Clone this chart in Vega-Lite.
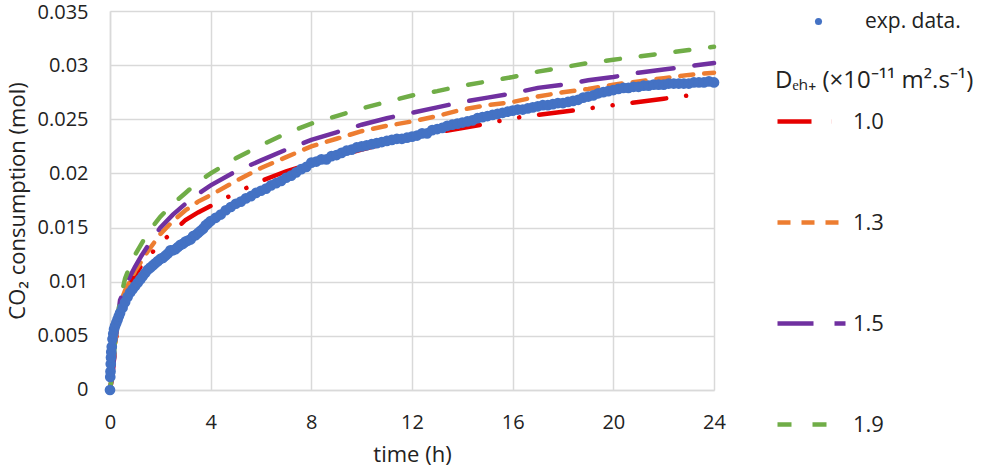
{
  "$schema": "https://vega.github.io/schema/vega-lite/v6.json",
  "width": 604,
  "height": 379,
  "autosize": "none",
  "padding": {"left": 110, "top": 11, "right": 272, "bottom": 83},
  "background": "white",
  "config": {
    "font": "Open Sans",
    "view": {"stroke": null},
    "axis": {
      "grid": true,
      "gridColor": "#D9D9D9",
      "gridWidth": 1.5,
      "domainColor": "#D9D9D9",
      "domainWidth": 1.5,
      "ticks": false,
      "labelFont": "Open Sans",
      "labelFontSize": 20,
      "labelColor": "#222222",
      "titleFont": "Open Sans",
      "titleFontSize": 22,
      "titleFontWeight": "normal",
      "titleColor": "#222222"
    },
    "legend": {
      "labelFont": "Open Sans",
      "titleFont": "Open Sans",
      "labelColor": "#222222",
      "titleColor": "#222222"
    }
  },
  "datasets": {
    "exp": [
      {"t": 0, "v": 0},
      {"t": 0.01, "v": 0.0012},
      {"t": 0.02, "v": 0.0017},
      {"t": 0.03, "v": 0.0024},
      {"t": 0.04, "v": 0.003},
      {"t": 0.05, "v": 0.0035},
      {"t": 0.07, "v": 0.004},
      {"t": 0.1, "v": 0.0047},
      {"t": 0.13, "v": 0.0052},
      {"t": 0.16, "v": 0.0056},
      {"t": 0.2, "v": 0.0059},
      {"t": 0.25, "v": 0.0062},
      {"t": 0.3, "v": 0.0065},
      {"t": 0.35, "v": 0.0068},
      {"t": 0.4, "v": 0.0071},
      {"t": 0.5, "v": 0.0076},
      {"t": 0.6, "v": 0.0081},
      {"t": 0.7, "v": 0.0086},
      {"t": 0.8, "v": 0.009},
      {"t": 0.9, "v": 0.0093},
      {"t": 1.0, "v": 0.0096},
      {"t": 1.1, "v": 0.0099},
      {"t": 1.2, "v": 0.0102},
      {"t": 1.3, "v": 0.0105},
      {"t": 1.4, "v": 0.0108},
      {"t": 1.5, "v": 0.0111},
      {"t": 1.6, "v": 0.0113},
      {"t": 1.7, "v": 0.0115},
      {"t": 1.8, "v": 0.0117},
      {"t": 1.9, "v": 0.0119},
      {"t": 2.0, "v": 0.0121},
      {"t": 2.1, "v": 0.0122},
      {"t": 2.2, "v": 0.0124},
      {"t": 2.3, "v": 0.0126},
      {"t": 2.4, "v": 0.0129},
      {"t": 2.5, "v": 0.0129},
      {"t": 2.6, "v": 0.013},
      {"t": 2.7, "v": 0.0132},
      {"t": 2.8, "v": 0.0134},
      {"t": 2.9, "v": 0.0135},
      {"t": 3.0, "v": 0.0137},
      {"t": 3.1, "v": 0.0138},
      {"t": 3.2, "v": 0.0139},
      {"t": 3.3, "v": 0.0142},
      {"t": 3.4, "v": 0.0143},
      {"t": 3.5, "v": 0.0145},
      {"t": 3.6, "v": 0.0147},
      {"t": 3.7, "v": 0.0149},
      {"t": 3.8, "v": 0.0152},
      {"t": 3.9, "v": 0.0154},
      {"t": 4.0, "v": 0.0156},
      {"t": 4.2, "v": 0.0159},
      {"t": 4.4, "v": 0.0162},
      {"t": 4.6, "v": 0.0166},
      {"t": 4.8, "v": 0.0169},
      {"t": 5.0, "v": 0.0172},
      {"t": 5.2, "v": 0.0174},
      {"t": 5.4, "v": 0.0177},
      {"t": 5.6, "v": 0.0179},
      {"t": 5.8, "v": 0.0182},
      {"t": 6.0, "v": 0.0184},
      {"t": 6.2, "v": 0.0186},
      {"t": 6.4, "v": 0.0189},
      {"t": 6.6, "v": 0.0191},
      {"t": 6.8, "v": 0.0193},
      {"t": 7.0, "v": 0.0196},
      {"t": 7.2, "v": 0.0198},
      {"t": 7.4, "v": 0.0201},
      {"t": 7.6, "v": 0.0204},
      {"t": 7.8, "v": 0.0206},
      {"t": 8.0, "v": 0.021},
      {"t": 8.2, "v": 0.0211},
      {"t": 8.4, "v": 0.0213},
      {"t": 8.6, "v": 0.0213},
      {"t": 8.8, "v": 0.0216},
      {"t": 9.0, "v": 0.0217},
      {"t": 9.2, "v": 0.0219},
      {"t": 9.4, "v": 0.0221},
      {"t": 9.6, "v": 0.0222},
      {"t": 9.8, "v": 0.0224},
      {"t": 10.0, "v": 0.0225},
      {"t": 10.2, "v": 0.0226},
      {"t": 10.4, "v": 0.0227},
      {"t": 10.6, "v": 0.0228},
      {"t": 10.8, "v": 0.0229},
      {"t": 11.0, "v": 0.023},
      {"t": 11.2, "v": 0.0231},
      {"t": 11.4, "v": 0.0232},
      {"t": 11.6, "v": 0.0232},
      {"t": 11.8, "v": 0.0233},
      {"t": 12.0, "v": 0.0234},
      {"t": 12.2, "v": 0.0235},
      {"t": 12.4, "v": 0.0237},
      {"t": 12.6, "v": 0.0237},
      {"t": 12.8, "v": 0.024},
      {"t": 13.0, "v": 0.0241},
      {"t": 13.2, "v": 0.0242},
      {"t": 13.4, "v": 0.0244},
      {"t": 13.6, "v": 0.0245},
      {"t": 13.8, "v": 0.0246},
      {"t": 14.0, "v": 0.0247},
      {"t": 14.2, "v": 0.0248},
      {"t": 14.4, "v": 0.0249},
      {"t": 14.6, "v": 0.0251},
      {"t": 14.8, "v": 0.0252},
      {"t": 15.0, "v": 0.0253},
      {"t": 15.2, "v": 0.0254},
      {"t": 15.4, "v": 0.0255},
      {"t": 15.6, "v": 0.0256},
      {"t": 15.8, "v": 0.0257},
      {"t": 16.0, "v": 0.0258},
      {"t": 16.2, "v": 0.0259},
      {"t": 16.4, "v": 0.0259},
      {"t": 16.6, "v": 0.026},
      {"t": 16.8, "v": 0.0261},
      {"t": 17.0, "v": 0.0262},
      {"t": 17.2, "v": 0.0263},
      {"t": 17.4, "v": 0.0263},
      {"t": 17.6, "v": 0.0264},
      {"t": 17.8, "v": 0.0265},
      {"t": 18.0, "v": 0.0265},
      {"t": 18.2, "v": 0.0266},
      {"t": 18.4, "v": 0.0267},
      {"t": 18.6, "v": 0.0268},
      {"t": 18.8, "v": 0.027},
      {"t": 19.0, "v": 0.0271},
      {"t": 19.2, "v": 0.0272},
      {"t": 19.4, "v": 0.0274},
      {"t": 19.6, "v": 0.0275},
      {"t": 19.8, "v": 0.0276},
      {"t": 20.0, "v": 0.0277},
      {"t": 20.2, "v": 0.0278},
      {"t": 20.4, "v": 0.0279},
      {"t": 20.6, "v": 0.0279},
      {"t": 20.8, "v": 0.028},
      {"t": 21.0, "v": 0.028},
      {"t": 21.2, "v": 0.0281},
      {"t": 21.4, "v": 0.0281},
      {"t": 21.6, "v": 0.0282},
      {"t": 21.8, "v": 0.0282},
      {"t": 22.0, "v": 0.0282},
      {"t": 22.2, "v": 0.0283},
      {"t": 22.4, "v": 0.0283},
      {"t": 22.6, "v": 0.0283},
      {"t": 22.8, "v": 0.0283},
      {"t": 23.0, "v": 0.0283},
      {"t": 23.2, "v": 0.0284},
      {"t": 23.4, "v": 0.0284},
      {"t": 23.6, "v": 0.0284},
      {"t": 23.8, "v": 0.0285},
      {"t": 24.0, "v": 0.0284}
    ],
    "model": [
      {"t": 0, "v": 0, "D": "1.0"},
      {"t": 0.1, "v": 0.0015, "D": "1.0"},
      {"t": 0.2, "v": 0.0038, "D": "1.0"},
      {"t": 0.3, "v": 0.0058, "D": "1.0"},
      {"t": 0.4, "v": 0.0072, "D": "1.0"},
      {"t": 0.6, "v": 0.0088, "D": "1.0"},
      {"t": 0.8, "v": 0.0098, "D": "1.0"},
      {"t": 1, "v": 0.0106, "D": "1.0"},
      {"t": 1.25, "v": 0.0115, "D": "1.0"},
      {"t": 1.5, "v": 0.0122, "D": "1.0"},
      {"t": 2, "v": 0.0136, "D": "1.0"},
      {"t": 2.5, "v": 0.0146, "D": "1.0"},
      {"t": 3, "v": 0.0157, "D": "1.0"},
      {"t": 3.5, "v": 0.0164, "D": "1.0"},
      {"t": 4, "v": 0.017, "D": "1.0"},
      {"t": 5, "v": 0.0182, "D": "1.0"},
      {"t": 6, "v": 0.0193, "D": "1.0"},
      {"t": 7, "v": 0.0202, "D": "1.0"},
      {"t": 8, "v": 0.0209, "D": "1.0"},
      {"t": 9, "v": 0.0216, "D": "1.0"},
      {"t": 10, "v": 0.0222, "D": "1.0"},
      {"t": 11, "v": 0.0228, "D": "1.0"},
      {"t": 12, "v": 0.0233, "D": "1.0"},
      {"t": 13, "v": 0.0238, "D": "1.0"},
      {"t": 14, "v": 0.0242, "D": "1.0"},
      {"t": 15, "v": 0.0246, "D": "1.0"},
      {"t": 16, "v": 0.0251, "D": "1.0"},
      {"t": 17, "v": 0.0254, "D": "1.0"},
      {"t": 18, "v": 0.0257, "D": "1.0"},
      {"t": 19, "v": 0.026, "D": "1.0"},
      {"t": 20, "v": 0.0263, "D": "1.0"},
      {"t": 21, "v": 0.0266, "D": "1.0"},
      {"t": 22, "v": 0.0269, "D": "1.0"},
      {"t": 23, "v": 0.0272, "D": "1.0"},
      {"t": 23.4, "v": 0.0274, "D": "1.0"},
      {"t": 0, "v": 0, "D": "1.3"},
      {"t": 0.1, "v": 0.0015, "D": "1.3"},
      {"t": 0.2, "v": 0.004, "D": "1.3"},
      {"t": 0.3, "v": 0.0062, "D": "1.3"},
      {"t": 0.4, "v": 0.008, "D": "1.3"},
      {"t": 0.6, "v": 0.0092, "D": "1.3"},
      {"t": 0.8, "v": 0.0101, "D": "1.3"},
      {"t": 1, "v": 0.011, "D": "1.3"},
      {"t": 1.25, "v": 0.0119, "D": "1.3"},
      {"t": 1.5, "v": 0.0128, "D": "1.3"},
      {"t": 2, "v": 0.0144, "D": "1.3"},
      {"t": 2.5, "v": 0.0156, "D": "1.3"},
      {"t": 3, "v": 0.0166, "D": "1.3"},
      {"t": 3.5, "v": 0.0174, "D": "1.3"},
      {"t": 4, "v": 0.018, "D": "1.3"},
      {"t": 5, "v": 0.0193, "D": "1.3"},
      {"t": 6, "v": 0.0205, "D": "1.3"},
      {"t": 7, "v": 0.0215, "D": "1.3"},
      {"t": 8, "v": 0.0225, "D": "1.3"},
      {"t": 9, "v": 0.0232, "D": "1.3"},
      {"t": 10, "v": 0.0239, "D": "1.3"},
      {"t": 11, "v": 0.0244, "D": "1.3"},
      {"t": 12, "v": 0.0248, "D": "1.3"},
      {"t": 13, "v": 0.0253, "D": "1.3"},
      {"t": 14, "v": 0.0259, "D": "1.3"},
      {"t": 15, "v": 0.0263, "D": "1.3"},
      {"t": 16, "v": 0.0266, "D": "1.3"},
      {"t": 17, "v": 0.0271, "D": "1.3"},
      {"t": 18, "v": 0.0275, "D": "1.3"},
      {"t": 19, "v": 0.0278, "D": "1.3"},
      {"t": 20, "v": 0.0282, "D": "1.3"},
      {"t": 21, "v": 0.0285, "D": "1.3"},
      {"t": 22, "v": 0.0288, "D": "1.3"},
      {"t": 23, "v": 0.0291, "D": "1.3"},
      {"t": 24, "v": 0.0293, "D": "1.3"},
      {"t": 0, "v": 0, "D": "1.5"},
      {"t": 0.1, "v": 0.0015, "D": "1.5"},
      {"t": 0.2, "v": 0.004, "D": "1.5"},
      {"t": 0.3, "v": 0.0065, "D": "1.5"},
      {"t": 0.4, "v": 0.0083, "D": "1.5"},
      {"t": 0.6, "v": 0.0094, "D": "1.5"},
      {"t": 0.8, "v": 0.0105, "D": "1.5"},
      {"t": 1, "v": 0.0114, "D": "1.5"},
      {"t": 1.25, "v": 0.0124, "D": "1.5"},
      {"t": 1.5, "v": 0.0133, "D": "1.5"},
      {"t": 2, "v": 0.015, "D": "1.5"},
      {"t": 2.5, "v": 0.0162, "D": "1.5"},
      {"t": 3, "v": 0.0172, "D": "1.5"},
      {"t": 3.5, "v": 0.0181, "D": "1.5"},
      {"t": 4, "v": 0.0189, "D": "1.5"},
      {"t": 5, "v": 0.0202, "D": "1.5"},
      {"t": 6, "v": 0.0212, "D": "1.5"},
      {"t": 7, "v": 0.0222, "D": "1.5"},
      {"t": 8, "v": 0.0231, "D": "1.5"},
      {"t": 9, "v": 0.0238, "D": "1.5"},
      {"t": 10, "v": 0.0245, "D": "1.5"},
      {"t": 11, "v": 0.0251, "D": "1.5"},
      {"t": 12, "v": 0.0256, "D": "1.5"},
      {"t": 13, "v": 0.0261, "D": "1.5"},
      {"t": 14, "v": 0.0266, "D": "1.5"},
      {"t": 15, "v": 0.027, "D": "1.5"},
      {"t": 16, "v": 0.0274, "D": "1.5"},
      {"t": 17, "v": 0.0279, "D": "1.5"},
      {"t": 18, "v": 0.0282, "D": "1.5"},
      {"t": 19, "v": 0.0286, "D": "1.5"},
      {"t": 20, "v": 0.0289, "D": "1.5"},
      {"t": 21, "v": 0.0293, "D": "1.5"},
      {"t": 22, "v": 0.0296, "D": "1.5"},
      {"t": 23, "v": 0.0299, "D": "1.5"},
      {"t": 24, "v": 0.0302, "D": "1.5"},
      {"t": 0, "v": 0, "D": "1.9"},
      {"t": 0.1, "v": 0.0018, "D": "1.9"},
      {"t": 0.2, "v": 0.0045, "D": "1.9"},
      {"t": 0.3, "v": 0.0068, "D": "1.9"},
      {"t": 0.4, "v": 0.0083, "D": "1.9"},
      {"t": 0.6, "v": 0.0103, "D": "1.9"},
      {"t": 0.8, "v": 0.0115, "D": "1.9"},
      {"t": 1, "v": 0.0125, "D": "1.9"},
      {"t": 1.25, "v": 0.0135, "D": "1.9"},
      {"t": 1.5, "v": 0.0145, "D": "1.9"},
      {"t": 2, "v": 0.016, "D": "1.9"},
      {"t": 2.5, "v": 0.0172, "D": "1.9"},
      {"t": 3, "v": 0.0182, "D": "1.9"},
      {"t": 3.5, "v": 0.0192, "D": "1.9"},
      {"t": 4, "v": 0.02, "D": "1.9"},
      {"t": 5, "v": 0.0214, "D": "1.9"},
      {"t": 6, "v": 0.0226, "D": "1.9"},
      {"t": 7, "v": 0.0237, "D": "1.9"},
      {"t": 8, "v": 0.0246, "D": "1.9"},
      {"t": 9, "v": 0.0253, "D": "1.9"},
      {"t": 10, "v": 0.026, "D": "1.9"},
      {"t": 11, "v": 0.0266, "D": "1.9"},
      {"t": 12, "v": 0.0272, "D": "1.9"},
      {"t": 13, "v": 0.0276, "D": "1.9"},
      {"t": 14, "v": 0.0281, "D": "1.9"},
      {"t": 15, "v": 0.0285, "D": "1.9"},
      {"t": 16, "v": 0.0289, "D": "1.9"},
      {"t": 17, "v": 0.0294, "D": "1.9"},
      {"t": 18, "v": 0.0298, "D": "1.9"},
      {"t": 19, "v": 0.0302, "D": "1.9"},
      {"t": 20, "v": 0.0305, "D": "1.9"},
      {"t": 21, "v": 0.0308, "D": "1.9"},
      {"t": 22, "v": 0.0311, "D": "1.9"},
      {"t": 23, "v": 0.0314, "D": "1.9"},
      {"t": 24, "v": 0.0317, "D": "1.9"}
    ]
  },
  "encoding": {
    "x": {
      "field": "t",
      "type": "quantitative",
      "title": "time (h)",
      "scale": {"domain": [0, 24], "nice": false},
      "axis": {"values": [0, 4, 8, 12, 16, 20, 24], "labelExpr": "datum.value == 0 ? '0' : format(datum.value, 'd')", "labelFlush": false, "labelPadding": 22, "titlePadding": 12}
    },
    "y": {
      "field": "v",
      "type": "quantitative",
      "title": "CO₂ consumption (mol)",
      "scale": {"domain": [0, 0.035], "nice": false},
      "axis": {"values": [0, 0.005, 0.01, 0.015, 0.02, 0.025, 0.03, 0.035], "labelExpr": "datum.value == 0 ? '0' : format(datum.value, '~g')", "labelFlush": true, "labelFlushOffset": 9, "labelPadding": 22, "titlePadding": 8}
    }
  },
  "layer": [
    {
      "data": {"name": "model"},
      "mark": {"type": "line", "strokeWidth": 4.5, "strokeCap": "round"},
      "encoding": {
        "color": {
          "field": "D",
          "type": "nominal",
          "scale": {"domain": ["1.0", "1.3", "1.5", "1.9"], "range": ["#E60000", "#ED7D31", "#7030A0", "#70AD47"]},
          "legend": {
            "title": "Dₑₕ₊ (×10⁻¹¹ m².s⁻¹)",
            "orient": "none",
            "legendX": 665,
            "legendY": 58,
            "symbolType": "stroke",
            "symbolSize": 4624,
            "symbolStrokeWidth": 4.5,
            "labelFontSize": 22,
            "titleFontSize": 24,
            "titleFontWeight": "normal",
            "titleLimit": 320,
            "labelOffset": 5,
            "rowPadding": 53,
            "titlePadding": -8,
            "padding": 0
          }
        },
        "strokeDash": {
          "field": "D",
          "type": "nominal",
          "scale": {"domain": ["1.0", "1.3", "1.5", "1.9"], "range": [[34, 20, 0.1, 20, 0.1, 20], [13, 11], [36, 21], [14, 21]]},
          "legend": {"title": "Dₑₕ₊ (×10⁻¹¹ m².s⁻¹)"}
        }
      }
    },
    {
      "data": {"name": "exp"},
      "mark": {"type": "point", "filled": true, "size": 115, "opacity": 1},
      "encoding": {
        "fill": {
          "datum": "exp. data.",
          "type": "nominal",
          "scale": {"range": ["#4472C4"]},
          "legend": {
            "title": null,
            "orient": "none",
            "legendX": 698,
            "legendY": 0,
            "symbolSize": 50,
            "labelFontSize": 21,
            "labelOffset": 36,
            "padding": 0
          }
        }
      }
    }
  ]
}
